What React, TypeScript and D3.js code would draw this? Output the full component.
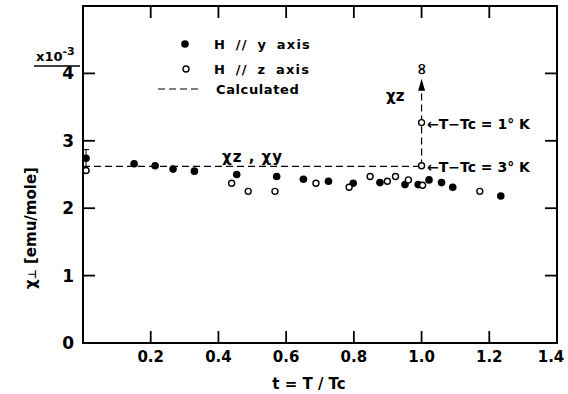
import * as d3 from "d3";

// H // y axis (filled)
const yAxisT = [0.009, 0.151, 0.213, 0.266, 0.329, 0.454, 0.572, 0.651, 0.725, 0.798, 0.877, 0.951, 0.99, 1.022, 1.059, 1.092, 1.234];
const yAxisChi = [2.74, 2.66, 2.63, 2.58, 2.55, 2.5, 2.47, 2.43, 2.4, 2.37, 2.38, 2.35, 2.35, 2.42, 2.38, 2.31, 2.18];

// H // z axis (open)
const zAxisT = [0.009, 0.439, 0.488, 0.567, 0.688, 0.786, 0.848, 0.899, 0.923, 0.961, 1.003, 1.172, 1.0, 1.0];
const zAxisChi = [2.56, 2.37, 2.25, 2.25, 2.37, 2.31, 2.47, 2.4, 2.47, 2.42, 2.34, 2.25, 2.63, 3.27];

const calcLevel = 2.62;
const arrowTop = 3.92;
const xTicks = [0.2, 0.4, 0.6, 0.8, 1.0, 1.2, 1.4];
const xTickLabels = ["0.2", "0.4", "0.6", "0.8", "1.0", "1.2", "1.4"];
const yTicks = [0, 1, 2, 3, 4];

const FONT = "'DejaVu Sans', sans-serif";

export default function App() {
  const width = 568;
  const height = 394;
  const x = d3.scaleLinear().domain([0, 1.4]).range([83, 557]);
  const y = d3.scaleLinear().domain([0, 5]).range([343, 6]);
  const tickLen = 12;
  const dash = "7,4";

  const line = d3.line<[number, number]>().x((d) => x(d[0])).y((d) => y(d[1]));

  return (
    <svg width={width} height={height} style={{ position: "absolute", left: 0, top: 0, background: "#fff" }} fontFamily={FONT}>
      {/* frame */}
      <rect x={x(0)} y={y(5)} width={x(1.4) - x(0)} height={y(0) - y(5)} fill="none" stroke="#000" strokeWidth={2} />
      {xTicks.slice(0, -1).map((t) => (
        <g key={t}>
          <line x1={x(t)} x2={x(t)} y1={y(0)} y2={y(0) - tickLen} stroke="#000" strokeWidth={1.8} />
          <line x1={x(t)} x2={x(t)} y1={y(5)} y2={y(5) + tickLen} stroke="#000" strokeWidth={1.8} />
        </g>
      ))}
      {yTicks.slice(1).map((v) => (
        <g key={v}>
          <line x1={x(0)} x2={x(0) + tickLen} y1={y(v)} y2={y(v)} stroke="#000" strokeWidth={1.8} />
          <line x1={x(1.4)} x2={x(1.4) - tickLen} y1={y(v)} y2={y(v)} stroke="#000" strokeWidth={1.8} />
        </g>
      ))}
      {xTicks.map((t, i) => (
        <text key={t} x={Math.min(x(t), 551)} y={362} textAnchor="middle" fontSize={15} fontWeight="bold">
          {xTickLabels[i]}
        </text>
      ))}
      {yTicks.map((v) => (
        <text key={v} x={74} y={y(v) + 6} textAnchor="end" fontSize={17} fontWeight="bold">
          {v}
        </text>
      ))}
      {/* multiplier */}
      <text x={36} y={61} fontSize={13} fontWeight="bold">
        x10
        <tspan dy={-6} fontSize={11}>-3</tspan>
      </text>
      <line x1={34} x2={80} y1={66} y2={66} stroke="#000" strokeWidth={1.5} />

      {/* axis titles */}
      <text x={309} y={389} textAnchor="middle" fontSize={15} fontWeight="bold">
        t = T / Tc
      </text>
      <text transform="translate(36,228) rotate(-90)" textAnchor="middle" fontSize={15} fontWeight="bold">
        χ<tspan fontSize={11}>⊥</tspan> [emu/mole]
      </text>

      {/* calculated */}
      <path d={line([[0, calcLevel], [1.0, calcLevel]]) || ""} fill="none" stroke="#000" strokeWidth={1.2} strokeDasharray={dash} />
      <path d={line([[1.0, calcLevel], [1.0, arrowTop - 0.15]]) || ""} fill="none" stroke="#000" strokeWidth={1.2} strokeDasharray={dash} />
      <path
        d={`M${x(1.0)},${y(arrowTop)} L${x(1.0) - 3.5},${y(arrowTop) + 12} L${x(1.0) + 3.5},${y(arrowTop) + 12} Z`}
        fill="#000"
      />
      <text transform={`translate(${x(1.0)},${y(arrowTop) - 10}) rotate(90)`} textAnchor="middle" dy={5} fontSize={16} fontWeight="bold">∞</text>
      {/* error bar near t = 0 */}
      <line x1={x(0.009)} x2={x(0.009)} y1={y(2.87)} y2={y(2.62)} stroke="#000" strokeWidth={1} />
      <line x1={x(0.009) - 3} x2={x(0.009) + 3} y1={y(2.87)} y2={y(2.87)} stroke="#000" strokeWidth={1} />

      {/* data */}
      {yAxisT.map((t, i) => (
        <circle key={"f" + i} cx={x(t)} cy={y(yAxisChi[i])} r={3.8} fill="#000" />
      ))}
      {zAxisT.map((t, i) => (
        <circle key={"o" + i} cx={x(t)} cy={y(zAxisChi[i])} r={3} fill="#fff" stroke="#000" strokeWidth={1.4} />
      ))}

      {/* annotations */}
      <text x={222} y={162} fontSize={15} fontWeight="bold" letterSpacing={1}>
        χz , χy
      </text>
      <text x={386} y={101} fontSize={15} fontWeight="bold">
        χz
      </text>
      <text x={427} y={129} fontSize={14} fontWeight="bold">
        ←T−Tc = 1° K
      </text>
      <text x={427} y={172} fontSize={14} fontWeight="bold">
        ←T−Tc = 3° K
      </text>

      {/* legend */}
      <circle cx={185} cy={44} r={3.8} fill="#000" />
      <text x={214} y={49} fontSize={13} fontWeight="bold" letterSpacing={1.2} wordSpacing={4}>H // y axis</text>
      <circle cx={186} cy={69} r={3} fill="#fff" stroke="#000" strokeWidth={1.4} />
      <text x={214} y={74} fontSize={13} fontWeight="bold" letterSpacing={1.2} wordSpacing={4}>H // z axis</text>
      <line x1={158} x2={202} y1={89} y2={89} stroke="#000" strokeWidth={1.2} strokeDasharray={dash} />
      <text x={216} y={94} fontSize={13} fontWeight="bold" letterSpacing={0.6}>Calculated</text>
    </svg>
  );
}
